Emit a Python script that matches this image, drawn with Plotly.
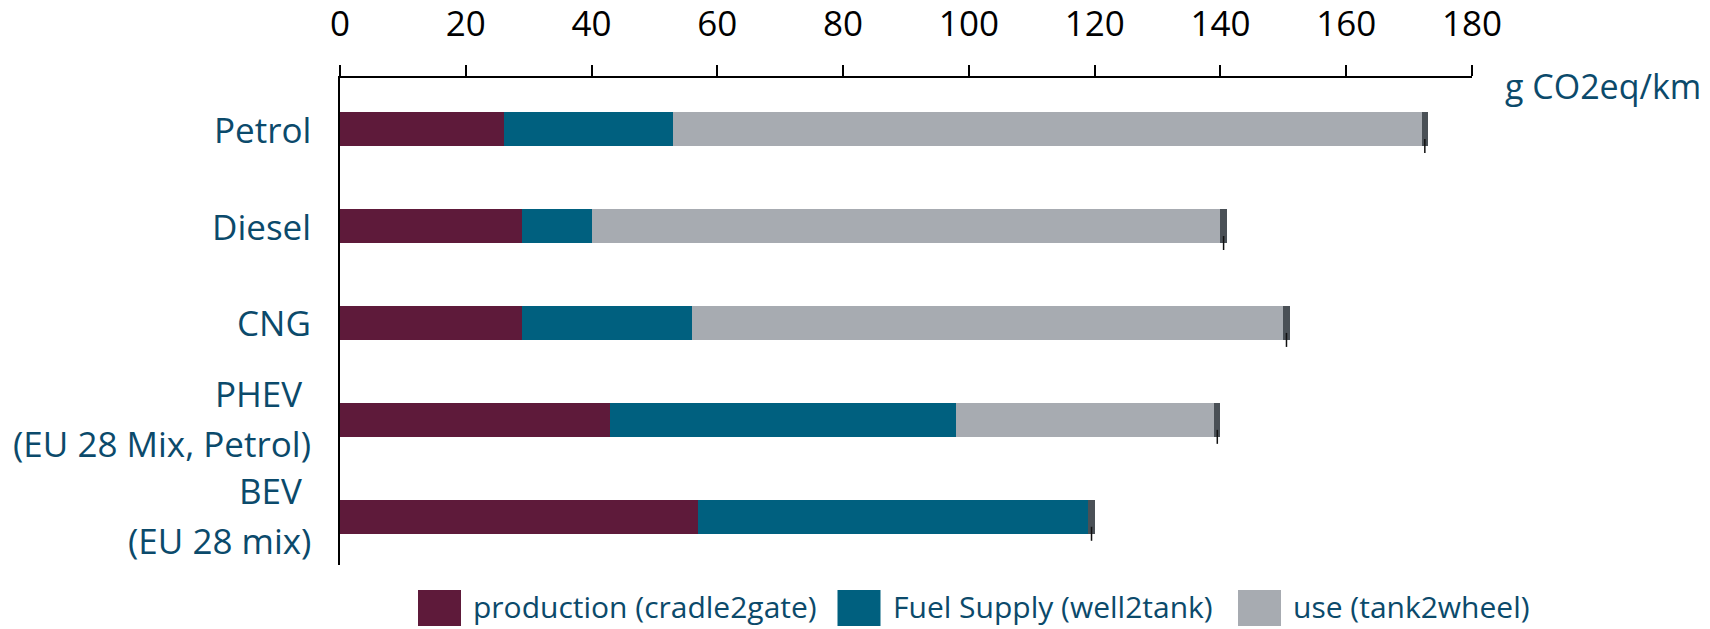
import plotly.graph_objects as go

# ---------------- data ----------------
categories = ["Petrol", "Diesel", "CNG", "PHEV\u00a0|(EU 28 Mix, Petrol)", "BEV\u00a0|(EU 28 mix)"]
series_names = ["production (cradle2gate)", "Fuel Supply (well2tank)", "use (tank2wheel)"]
production = [26, 29, 29, 43, 57]
fuel_supply = [27, 11, 27, 55, 62]
use = [119, 100, 94, 41, 0]
other = [1, 1, 1, 1, 1]          # small dark end segment (not in legend)
x_ticks = [0, 20, 40, 60, 80, 100, 120, 140, 160, 180]
unit_label = "g CO2eq/km"

colors = ["#5E1A3A", "#00607F", "#A7ABB1"]
other_color = "#4A5056"
text_color = "#0B4A6B"
font_family = "Open Sans"

# ---------------- geometry (pixels) ----------------
W, H = 1710, 629
L, R, T, B = 340, 1472, 78, 565

def xp(px):
    return (px - L) / (R - L)

def yp(py):
    return (B - py) / (B - T)

ypos = list(range(len(categories)))

fig = go.Figure()
for name, vals, col in zip(series_names, [production, fuel_supply, use], colors):
    fig.add_trace(go.Bar(
        x=vals, y=ypos, orientation="h", name=name,
        marker=dict(color=col, line=dict(width=0)),
        width=0.351, showlegend=False, hoverinfo="x+name",
    ))
fig.add_trace(go.Bar(
    x=other, y=ypos, orientation="h", name="other",
    marker=dict(color=other_color, line=dict(width=0)),
    width=0.351, showlegend=False,
))

totals = [p + f + u for p, f, u in zip(production, fuel_supply, use)]
fig.add_trace(go.Scatter(
    x=[t + o / 2 for t, o in zip(totals, other)],
    y=[i + 0.175 for i in ypos],
    mode="markers",
    marker=dict(symbol="line-ns", size=10, line=dict(color="#111111", width=1.5)),
    showlegend=False, hoverinfo="skip",
))

annotations = []
# category labels
for i, cat in enumerate(categories):
    lines = cat.split("|")
    if len(lines) == 1:
        offs = [0.0]
    else:
        offs = [-0.275, 0.245]
    for line, off in zip(lines, offs):
        annotations.append(dict(
            text=line, x=0, xref="paper", xanchor="right", xshift=-27,
            y=i + off, yref="y", yanchor="middle",
            showarrow=False, font=dict(family=font_family, size=35, color=text_color),
        ))

# unit label
annotations.append(dict(
    text=unit_label, x=xp(1503), xref="paper", xanchor="left",
    y=yp(86), yref="paper", yanchor="middle", showarrow=False,
    font=dict(family=font_family, size=34, color=text_color),
))

# manual legend
shapes = []
sw_x = [418, 837.5, 1238]
txt_x = [471, 891, 1291]
for name, col, sx, tx in zip(series_names, colors, sw_x, txt_x):
    shapes.append(dict(
        type="rect", xref="paper", yref="paper",
        x0=xp(sx), x1=xp(sx + 43), y0=yp(590), y1=yp(626),
        fillcolor=col, line=dict(width=0),
    ))
    annotations.append(dict(
        text=name, x=xp(tx), xref="paper", xanchor="left",
        y=yp(606), yref="paper", yanchor="middle", showarrow=False,
        font=dict(family=font_family, size=30, color=text_color),
    ))

fig.update_layout(
    width=W, height=H,
    margin=dict(l=L, r=W - R, t=T, b=H - B, pad=0, autoexpand=False),
    barmode="stack",
    plot_bgcolor="white", paper_bgcolor="white",
    showlegend=False,
    annotations=annotations, shapes=shapes,
    font=dict(family=font_family),
)
fig.update_xaxes(
    side="top", range=[0, 180], tickvals=x_ticks, ticktext=[str(v) for v in x_ticks],
    showgrid=False, zeroline=False, automargin=False,
    showline=True, linecolor="black", linewidth=2,
    ticks="outside", ticklen=11, tickwidth=1.5, tickcolor="black",
    ticklabelstandoff=15,
    tickfont=dict(family=font_family, size=35, color="black"),
    fixedrange=True,
)
fig.update_yaxes(
    range=[4.497, -0.527], showticklabels=False, ticks="",
    showgrid=False, zeroline=False, automargin=False,
    showline=True, linecolor="black", linewidth=2,
    fixedrange=True,
)

fig.write_html(
    "out.html",
    config={"displayModeBar": False},
    post_script="document.body.style.margin='0';document.body.style.overflow='hidden';",
)
